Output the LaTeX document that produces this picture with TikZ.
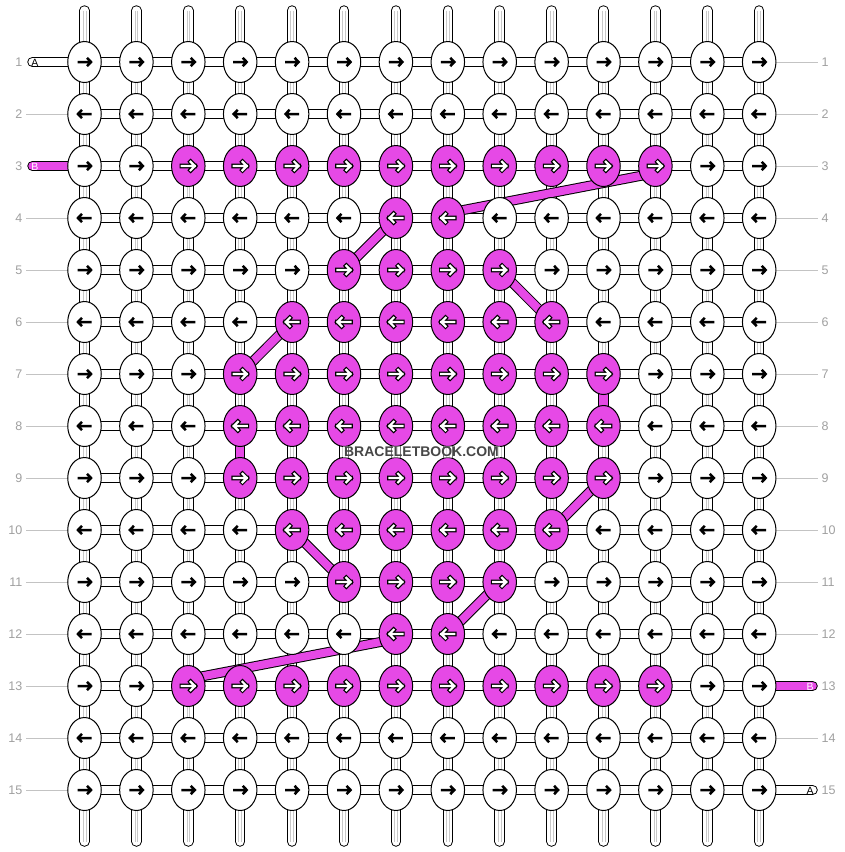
\documentclass[tikz,border=0pt]{standalone}
\usepackage{fontspec}
\setmainfont{Liberation Sans}
\usetikzlibrary{shapes.geometric,calc}
\definecolor{pk}{RGB}{230,73,230}
\definecolor{lblc}{RGB}{160,160,160}
\definecolor{gln}{RGB}{195,195,195}
\definecolor{innr}{RGB}{200,200,200}
\pgfdeclarelayer{bg}\pgfdeclarelayer{mid}\pgfsetlayers{bg,mid,main}
\tikzset{
 knot/.style={ellipse, draw=black, line width=1pt, fill=white, minimum width=33.5pt, minimum height=41pt, inner sep=0pt},
 pknot/.style={knot, fill=pk},
 tubeout/.style={line width=10.5pt, black},
 tubein/.style={line width=8.5pt, white},
 tubepk/.style={line width=8.5pt, pk},
 lbl/.style={text=lblc, font=\fontsize{12.5}{12.5}\selectfont, inner sep=0pt},
 strlbl/.style={font=\fontsize{10.5}{11}\selectfont, inner sep=0pt},
 grayline/.style={draw=gln, line width=1pt}
}
\newcommand\karrow[3]{%
 \begin{scope}[shift={(#1)}, xscale=#2]
  \ifnum#3=1
   \draw[line width=4.6pt, black, line cap=rect, miter limit=10] (-6.5,0)--(6.5,0) (2.3,-4.2)--(6.5,0)--(2.3,4.2);
   \draw[line width=2.2pt, white, line cap=rect, miter limit=10] (-6.5,0)--(6.5,0) (2.3,-4.2)--(6.5,0)--(2.3,4.2);
  \else
   \draw[line width=2.5pt, black, miter limit=10] (-7,0)--(6.5,0) (2.5,-4.2)--(6.5,0)--(2.5,4.2);
  \fi
 \end{scope}}
\newcommand\pinkline[3]{%
 \draw[line width=#3pt+2pt, black] (#1)--(#2);
 \draw[line width=#3pt, pk] (#1)--(#2);}
\begin{document}
\begin{tikzpicture}[x=1pt,y=-1pt]
\useasboundingbox (0,0) rectangle (844,852);
% knots
\foreach \j/\a/\b in {1/99/0,2/99/0,3/3/12,4/7/8,5/6/9,6/5/10,7/4/11,8/4/11,9/4/11,10/5/10,11/6/9,12/7/8,13/3/12,14/99/0,15/99/0}{
  \foreach \i in {1,...,14}{
    \pgfmathsetmacro\xx{84.5+(\i-1)*51.9}
    \pgfmathsetmacro\yy{62+(\j-1)*52}
    \pgfmathtruncatemacro\pk{and(\i>(\a-1),\i<(\b+1))}
    \pgfmathtruncatemacro\dir{1-2*mod(\j+1,2)}
    \ifnum\pk=1
      \node[pknot] (k-\j-\i) at (\xx,\yy) {};
    \else
      \node[knot] (k-\j-\i) at (\xx,\yy) {};
    \fi
    \karrow{k-\j-\i.center}{\dir}{\pk}
  }
}
% coordinates for tube ends
\foreach \i in {1,...,14}{
  \pgfmathsetmacro\xx{84.5+(\i-1)*51.9}
  \coordinate (t-\i) at (\xx,10.5);
  \coordinate (b-\i) at (\xx,841.5);
}
% labels
\foreach \j in {1,...,15}{
  \pgfmathsetmacro\yy{62+(\j-1)*52}
  \node[lbl, anchor=east] (ll-\j) at (22.5,\yy) {\j};
  \node[lbl, anchor=west] (lr-\j) at (821.5,\yy) {\j};
  \coordinate (gl-\j) at (26,\yy);
  \coordinate (gr-\j) at (818,\yy);
}
\coordinate (s-1) at (32.5,62);
\coordinate (s-3) at (32.5,166);
\coordinate (e-13) at (812.5,686);
\coordinate (e-15) at (812.5,790);
\begin{pgfonlayer}{bg}
  \fill[white] (0,0) rectangle (844,852);
  \foreach \i in {1,...,14}{
    \draw[tubeout, line cap=round] (t-\i)--(b-\i);
    \draw[tubein, line cap=round] (t-\i)--(b-\i);
    \draw[innr, line width=0.7pt] ($(t-\i)+(-1.4,0)$)--($(b-\i)+(-1.4,0)$);
    \draw[innr, line width=0.7pt] ($(t-\i)+(1.4,0)$)--($(b-\i)+(1.4,0)$);
  }
  \foreach \j in {1,...,15}{
    \draw[tubeout] (k-\j-1.center)--(k-\j-14.center);
    \draw[tubein] (k-\j-1.center)--(k-\j-14.center);
  }
  \foreach \j in {2,4,5,6,7,8,9,10,11,12,13,14,15}{
    \draw[grayline] (gl-\j)--(k-\j-1.center);
  }
  \foreach \j in {1,2,3,4,5,6,7,8,9,10,11,12,14}{
    \draw[grayline] (k-\j-14.center)--(gr-\j);
  }
  \draw[tubeout, line cap=round] (s-1)--(k-1-1.center);
  \draw[tubein, line cap=round] (s-1)--(k-1-1.center);
  \draw[tubeout, line cap=round] (s-3)--(k-3-1.center);
  \draw[tubepk, line cap=round] (s-3)--(k-3-1.center);
  \draw[tubeout, line cap=round] (k-13-14.center)--(e-13);
  \draw[tubepk, line cap=round] (k-13-14.center)--(e-13);
  \draw[tubeout, line cap=round] (k-15-14.center)--(e-15);
  \draw[tubein, line cap=round] (k-15-14.center)--(e-15);
\end{pgfonlayer}
\node[strlbl] (la-1) at (35,62.5) {A};
\node[strlbl, text=white] (lb-3) at (35,166.5) {B};
\node[strlbl, text=white] (rb-13) at (810,686.5) {B};
\node[strlbl] (ra-15) at (810,790.5) {A};
% pink connectors
\begin{pgfonlayer}{mid}
  \pinkline{$(k-3-12.center)+(0,7)$}{$(k-4-8.center)+(0,-5)$}{8}
  \pinkline{k-4-7.center}{k-5-6.center}{8}
  \pinkline{k-5-9.center}{k-6-10.center}{8}
  \pinkline{k-6-5.center}{k-7-4.center}{8}
  \pinkline{k-7-11.center}{k-8-11.center}{8.5}
  \pinkline{k-8-4.center}{k-9-4.center}{8.5}
  \pinkline{k-9-11.center}{k-10-10.center}{8}
  \pinkline{k-10-5.center}{k-11-6.center}{8}
  \pinkline{k-11-9.center}{k-12-8.center}{8}
  \pinkline{$(k-12-7.center)+(0,5)$}{$(k-13-3.center)+(0,-7)$}{8}
\end{pgfonlayer}
\node[font=\bfseries\fontsize{14}{14}\selectfont, text=black!72, fill=white, fill opacity=0.45, text opacity=1, inner sep=1pt] (wm) at (421.5,452) {BRACELETBOOK.COM};
\end{tikzpicture}
\end{document}
